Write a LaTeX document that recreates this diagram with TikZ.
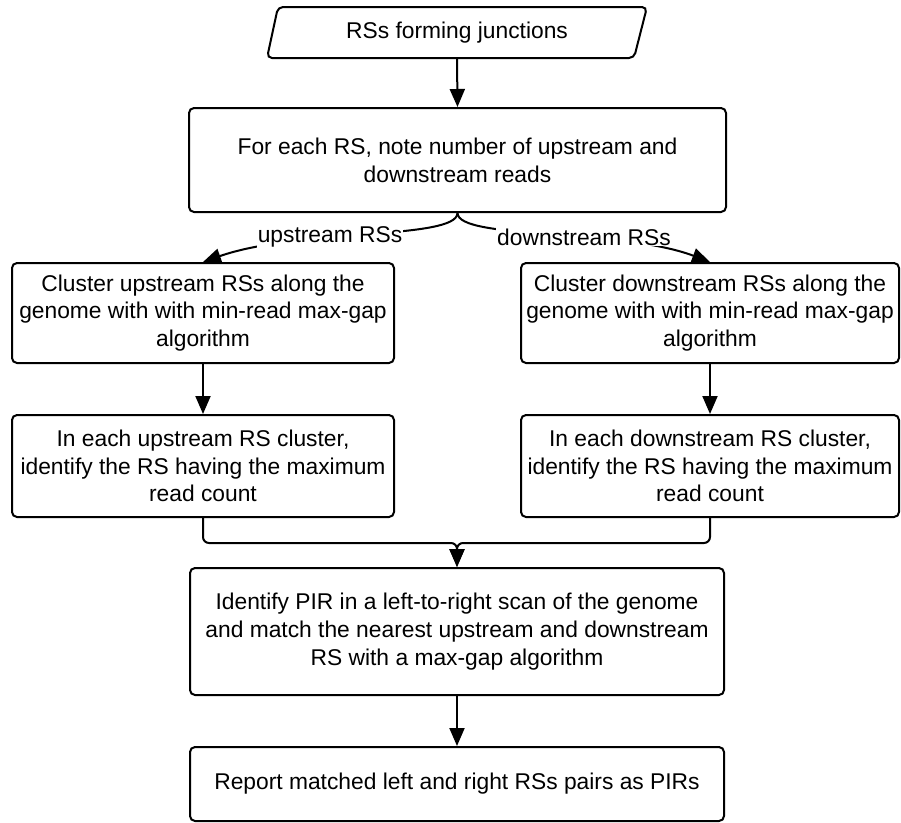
\documentclass[tikz,border=0pt]{standalone}
\usepackage{fontspec}
\setmainfont{Liberation Sans}
\usetikzlibrary{arrows.meta}
\begin{document}
\begin{tikzpicture}[x=1pt,y=-1pt,
  txt/.style={font=\fontsize{22.8}{27.7}\selectfont, align=center},
  box/.style={txt, draw, line width=2pt, rounded corners=5pt, inner sep=0pt},
  conn/.style={line width=2pt, -{Triangle[length=18pt,width=15pt]}},
  lbl/.style={txt, fill=white, inner sep=1pt}]
\useasboundingbox (0,0) rectangle (901,822);
% start parallelogram
\draw[line width=2pt, rounded corners=5pt] (278,7) -- (647,7) -- (634,58) -- (267,58) -- cycle;
\node[txt, inner sep=0pt, minimum width=356pt, minimum height=51pt] (n1) at (457,32.5) {RSs forming junctions};
\node[box, minimum width=537pt, minimum height=104pt] (n2) at (457.5,160) {For each RS, note number of upstream and\\downstream reads};
\node[box, minimum width=382pt, minimum height=100pt] (n3) at (203,313) {Cluster upstream RSs along the\\genome with with min-read max-gap\\algorithm};
\node[box, minimum width=378pt, minimum height=100pt] (n4) at (710,313) {Cluster downstream RSs along the\\genome with with min-read max-gap\\algorithm};
\node[box, minimum width=382pt, minimum height=102pt] (n5) at (203,466) {In each upstream RS cluster,\\identify the RS having the maximum\\read count};
\node[box, minimum width=378pt, minimum height=102pt] (n6) at (710,466) {In each downstream RS cluster,\\identify the RS having the maximum\\read count};
\node[box, minimum width=534pt, minimum height=127pt] (n7) at (457,631.5) {Identify PIR in a left-to-right scan of the genome\\and match the nearest upstream and downstream\\RS with a max-gap algorithm};
\node[box, minimum width=534pt, minimum height=74pt] (n8) at (457,784) {Report matched left and right RSs pairs as PIRs};
% connectors
\draw[conn] (n1.south) -- (n2.north);
\coordinate (br) at (n2.south);
\draw[conn] (br) .. controls (457,240) and (300,228) .. (n3.north);
\draw[conn] (br) .. controls (458,240) and (620,228) .. (n4.north);
\node[lbl] (lu) at (330,237) {upstream RSs};
\node[lbl] (ld) at (584,237) {downstream RSs};
\draw[conn] (n3.south) -- (n5.north);
\draw[conn] (n4.south) -- (n6.north);
\coordinate (mg) at (457,543);
\draw[conn, rounded corners=6pt] (n5.south) |- (mg) -- (n7.north);
\draw[conn, rounded corners=6pt] (n6.south) |- (mg) -- (n7.north);
\draw[conn] (n7.south) -- (n8.north);
\end{tikzpicture}
\end{document}
